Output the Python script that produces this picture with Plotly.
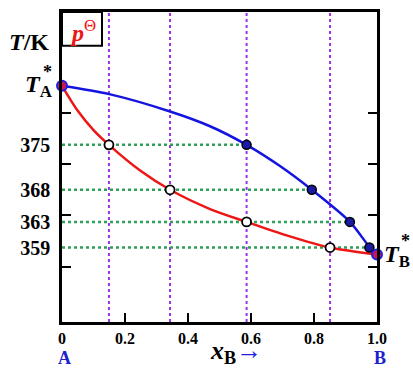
import plotly.graph_objects as go

# ---- data ----
T_levels = [375, 368, 363, 359]
x_liquid = [0.149, 0.343, 0.586, 0.851]      # open circles on the bubble curve
x_vapor = [0.586, 0.793, 0.914, 0.976]       # filled circles on the dew curve
T_A = 384.2
T_B = 357.9
liq_curve_x = [0, 0.05, 0.10, 0.149, 0.248, 0.343, 0.47, 0.586, 0.713, 0.851, 1.0]
liq_curve_T = [384.2, 380.3, 377.3, 375, 371.0, 368, 365.0, 363, 360.9, 359, 357.9]
vap_curve_x = [0, 0.150, 0.343, 0.470, 0.586, 0.692, 0.793, 0.914, 0.976, 1.0]
vap_curve_T = [384.2, 382.9, 380.2, 377.9, 375, 371.7, 368, 363, 359.1, 357.9]
x_tickvals = [0, 0.2, 0.4, 0.6, 0.8, 1.0]
x_ticktext = ["0", "0.2", "0.4", "0.6", "0.8", "1.0"]
y_minor_ticks = [356, 364, 372, 380]

Y_MIN, Y_MAX = 347.4, 395.7
SERIF = "Liberation Serif"

fig = go.Figure()

# vertical purple dotted lines through the liquid compositions
for xv in x_liquid:
    fig.add_trace(go.Scatter(x=[xv, xv], y=[Y_MIN, Y_MAX], mode="lines",
                             line=dict(color="#9b30e6", width=2, dash="dot"),
                             hoverinfo="skip", showlegend=False))

# horizontal green dotted tie lines from axis to the vapour point
for T, xv in zip(T_levels, x_vapor):
    fig.add_trace(go.Scatter(x=[0, xv], y=[T, T], mode="lines",
                             line=dict(color="#2ea05a", width=2.5, dash="dot"),
                             hoverinfo="skip", showlegend=False))

# curves
fig.add_trace(go.Scatter(x=vap_curve_x, y=vap_curve_T, mode="lines",
                         line=dict(color="#1414e0", width=2.5, shape="spline", smoothing=0.8),
                         showlegend=False))
fig.add_trace(go.Scatter(x=liq_curve_x, y=liq_curve_T, mode="lines",
                         line=dict(color="#ee1515", width=2.5, shape="spline", smoothing=0.8),
                         showlegend=False))

# markers
fig.add_trace(go.Scatter(x=x_vapor, y=T_levels, mode="markers",
                         marker=dict(size=9, color="#1a1aa8", line=dict(color="black", width=1.5)),
                         cliponaxis=False, showlegend=False))
fig.add_trace(go.Scatter(x=x_liquid, y=T_levels, mode="markers",
                         marker=dict(size=9, color="white", line=dict(color="black", width=1.8)),
                         cliponaxis=False, showlegend=False))
fig.add_trace(go.Scatter(x=[0, 1], y=[T_A, T_B], mode="markers",
                         marker=dict(size=10, color="#d0145a", line=dict(color="#2020e0", width=2)),
                         cliponaxis=False, showlegend=False))

L, R, T, B = 62, 36, 9, 47
W, H = 413, 369
pw, ph = W - L - R, H - T - B

def px(xp):
    return (xp - L) / pw

def py(yp):
    return (H - B - yp) / ph

fig.update_layout(
    width=W, height=H,
    margin=dict(l=L, r=R, t=T, b=B),
    paper_bgcolor="white", plot_bgcolor="white",
    font=dict(family=SERIF, color="black"),
    xaxis=dict(range=[0, 1], showgrid=False, zeroline=False,
               showline=True, linecolor="black", linewidth=2.5, mirror=True,
               tickvals=x_tickvals, ticktext=x_ticktext,
               ticks="inside", ticklen=9, tickwidth=2, tickcolor="black",
               tickfont=dict(family=SERIF, size=16, weight="bold", color="black")),
    yaxis=dict(range=[Y_MIN, Y_MAX], showgrid=False, zeroline=False,
               showline=True, linecolor="black", linewidth=2.5, mirror="ticks",
               tickvals=T_levels, ticktext=[str(v) for v in T_levels],
               ticks="", ticklabelstandoff=5,
               tickfont=dict(family=SERIF, size=20, weight="bold", color="black"),
               minor=dict(tickvals=y_minor_ticks, ticks="inside", ticklen=9,
                          tickwidth=2, tickcolor="black", showgrid=False)),
    shapes=[dict(type="rect", xref="paper", yref="paper",
                 x0=0, x1=px(102), y0=py(43), y1=1,
                 line=dict(color="black", width=2))],
)

ann = [
    dict(x=px(83), y=py(28), text="<b><i>p</i></b><sup>Θ</sup>",
         font=dict(size=24, color="#ee1515", family=SERIF)),
    dict(x=px(29), y=py(39), text="<b><i>T</i>/K</b>",
         font=dict(size=24, color="black", family=SERIF)),
    dict(x=px(38), y=py(84), text="<b><i>T</i><sub>A</sub></b>",
         font=dict(size=24, color="black", family=SERIF)),
    dict(x=px(47), y=py(70), text="<b>*</b>",
         font=dict(size=18, color="black", family=SERIF)),
    dict(x=px(397), y=py(255), text="<b><i>T</i><sub>B</sub></b>",
         font=dict(size=24, color="black", family=SERIF)),
    dict(x=px(406), y=py(240), text="<b>*</b>",
         font=dict(size=18, color="black", family=SERIF)),
    dict(x=px(64), y=py(358), text="<b>A</b>",
         font=dict(size=18, color="#2020cc", family=SERIF)),
    dict(x=px(380), y=py(358), text="<b>B</b>",
         font=dict(size=18, color="#2020cc", family=SERIF)),
    dict(x=px(236), y=py(352),
         text="<b><i>x</i><sub>B</sub></b><span style='color:#2020e0'>→</span>",
         font=dict(size=26, color="black", family=SERIF)),
]
for a in ann:
    a.update(xref="paper", yref="paper", showarrow=False,
             xanchor="center", yanchor="middle")
fig.update_layout(annotations=ann)

fig.write_html("out.html", config={"displayModeBar": False},
               post_script="document.body.style.margin='0';document.body.style.padding='0';")
